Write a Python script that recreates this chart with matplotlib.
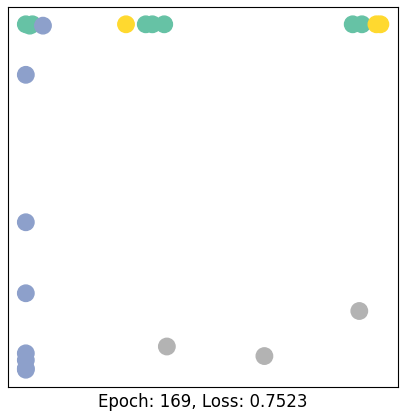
import matplotlib
matplotlib.use("Agg")
import matplotlib.pyplot as plt

# embedding coordinates
xs = [0.02, 0.05, 0.07, 0.93, 0.98, 1.07, 2.50, 2.57,
      0.15, 0.02, 0.02, 0.02, 0.02, 0.02, 0.02, 0.02,
      0.78, 2.68, 2.71,
      1.09, 1.83, 2.55]
ys = [2.00, 1.99, 2.00, 2.00, 2.00, 2.00, 2.00, 2.00,
      1.99, 1.63, 0.55, 0.03, -0.41, -0.46, -0.52, -0.53,
      2.00, 2.00, 2.00,
      -0.36, -0.43, -0.10]
labels = [0, 0, 0, 0, 0, 0, 0, 0,
          1, 1, 1, 1, 1, 1, 1, 1,
          2, 2, 2,
          3, 3, 3]
epoch = 169
loss = 0.7523

fig = plt.figure(figsize=(4.05, 4.13), dpi=100)
ax = fig.add_axes([0.02, 0.063, 0.963, 0.92])
ax.scatter(xs, ys, s=140, c=labels, cmap="Set2")
ax.set_xticks([])
ax.set_yticks([])
ax.set_xlabel(f"Epoch: {epoch}, Loss: {loss:.4f}", fontsize=12, labelpad=4)
fig.savefig("out.png", dpi=100)
